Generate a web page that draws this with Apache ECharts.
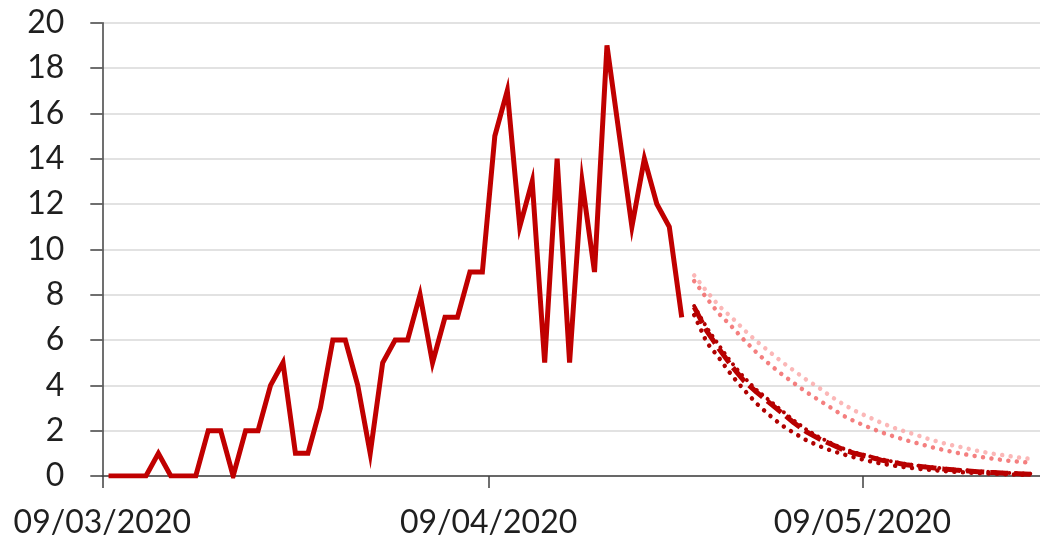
<!DOCTYPE html>
<html>
<head>
<meta charset="utf-8">
<script src="https://cdn.jsdelivr.net/npm/echarts@6/dist/echarts.min.js"></script>
<style>html,body{margin:0;padding:0;background:#fff}#c{width:1040px;height:545px}</style>
</head>
<body>
<div id="c"></div>
<script>
// Day index 0 = 09/03/2020
const tickDays = [0, 31, 61];
const tickLabels = ['09/03/2020', '09/04/2020', '09/05/2020'];
const yTicks = [0, 2, 4, 6, 8, 10, 12, 14, 16, 18, 20];

// Observed daily values, 09/03/2020 .. 24/04/2020
const actual = [0, 0, 0, 0, 1, 0, 0, 0, 2, 2, 0, 2, 2, 4, 5, 1, 1, 3, 6, 6, 4, 1, 5, 6, 6, 8, 5, 7, 7, 9, 9, 15, 17, 11, 13, 5, 14, 5, 13, 9, 19, 15, 11, 14, 12, 11, 7];

// Projections start on day 47 (25/04/2020)
const forecastStart = 47;
const upperLight = [8.85, 8.15, 7.5, 7.0, 6.45, 5.95, 5.5, 5.05, 4.65, 4.25, 3.9, 3.5, 3.15, 2.85, 2.6, 2.35, 2.13, 1.95, 1.78, 1.6, 1.45, 1.32, 1.2, 1.08, 0.98, 0.9, 0.82, 0.75];
const upperMid = [8.6, 7.85, 7.15, 6.6, 6.0, 5.45, 4.95, 4.5, 4.1, 3.7, 3.35, 3.0, 2.65, 2.38, 2.15, 1.93, 1.75, 1.58, 1.43, 1.28, 1.15, 1.03, 0.93, 0.84, 0.76, 0.69, 0.63, 0.58];
const central = [7.45, 6.4, 5.6, 4.85, 4.2, 3.7, 3.25, 2.8, 2.35, 1.95, 1.65, 1.4, 1.15, 0.98, 0.85, 0.7, 0.6, 0.5, 0.43, 0.37, 0.31, 0.26, 0.22, 0.18, 0.15, 0.12, 0.1, 0.08];
const centralAlt = [7.5, 6.55, 5.75, 5.0, 4.35, 3.8, 3.35, 2.9, 2.45, 2.05, 1.72, 1.45, 1.2, 1.02, 0.88, 0.74, 0.63, 0.53, 0.45, 0.39, 0.33, 0.28, 0.24, 0.2, 0.17, 0.14, 0.12, 0.1];
const lower = [7.1, 5.9, 5.2, 4.45, 3.8, 3.2, 2.7, 2.25, 1.9, 1.58, 1.33, 1.12, 0.95, 0.8, 0.66, 0.55, 0.46, 0.38, 0.32, 0.27, 0.22, 0.18, 0.15, 0.12, 0.1, 0.08, 0.06, 0.05];

const pts = (arr, start) => arr.map((v, i) => [start + i + 0.5, v]);

const FONT = 'Lato';
const chart = echarts.init(document.getElementById('c'), null, {renderer: 'canvas'});
chart.setOption({
  animation: false,
  backgroundColor: '#ffffff',
  grid: {left: 102.3, right: 0, top: 22.7, bottom: 69, containLabel: false},
  xAxis: {
    type: 'value',
    min: 0,
    max: 75.25,
    axisLine: {show: true, lineStyle: {color: '#404040', width: 1.5}},
    axisTick: {show: true, customValues: tickDays, length: 12, lineStyle: {color: '#404040', width: 1.5}},
    axisLabel: {
      customValues: tickDays,
      margin: 31,
      fontFamily: FONT, fontSize: 32, color: '#1f1f1f',
      formatter: v => tickLabels[tickDays.indexOf(Math.round(v))] || ''
    },
    splitLine: {show: false}
  },
  yAxis: {
    type: 'value',
    min: 0, max: 20, interval: 2,
    axisLine: {show: true, lineStyle: {color: '#404040', width: 1.5}},
    axisTick: {show: true, length: 12, lineStyle: {color: '#404040', width: 1.5}},
    axisLabel: {margin: 38, fontFamily: FONT, fontSize: 32, color: '#1f1f1f',
      formatter: v => yTicks.includes(v) ? String(v) : ''},
    splitLine: {show: true, lineStyle: {color: '#d9d9d9', width: 1.5}}
  },
  series: [
    {type: 'line', data: pts(upperLight, forecastStart), showSymbol: false, z: 2,
      lineStyle: {color: 'rgba(250,165,165,0.8)', width: 4.5, type: [0.01, 8.5], cap: 'round'}},
    {type: 'line', data: pts(upperMid, forecastStart), showSymbol: false, z: 2,
      lineStyle: {color: 'rgba(242,105,105,0.85)', width: 4.5, type: [0.01, 8.5], cap: 'round'}},
    {type: 'line', data: pts(lower, forecastStart), showSymbol: false, z: 3,
      lineStyle: {color: '#b00000', width: 4.5, type: [0.01, 8.5], cap: 'round'}},
    {type: 'line', data: pts(centralAlt, forecastStart), showSymbol: false, z: 3,
      lineStyle: {color: '#b00000', width: 4, type: [0.01, 7], cap: 'round'}},
    {type: 'line', data: pts(central, forecastStart), showSymbol: false, z: 4,
      lineStyle: {color: '#b80000', width: 5, type: [18, 6]}},
    {type: 'line', data: pts(actual, 0), showSymbol: false, z: 5,
      lineStyle: {color: '#c00000', width: 5, join: 'miter'}}
  ]
});
</script>
</body>
</html>
